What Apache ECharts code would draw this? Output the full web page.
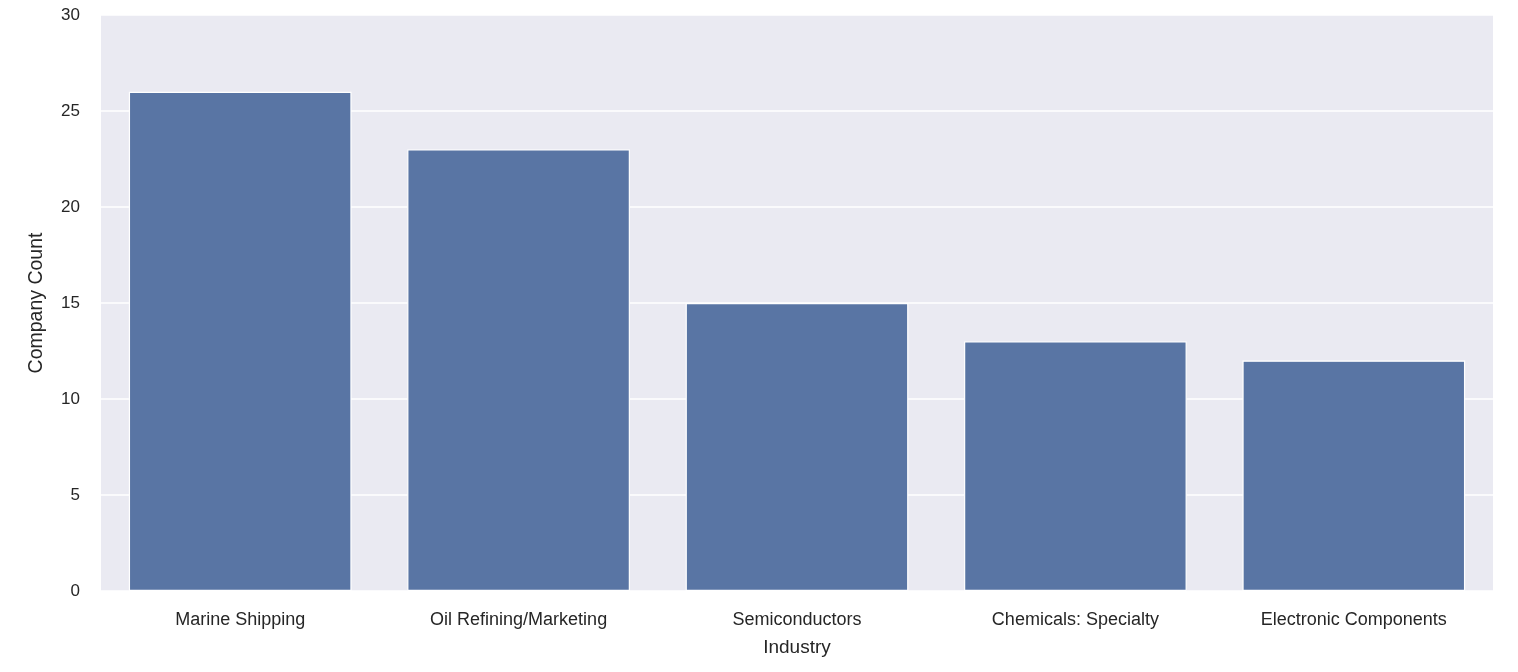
<!DOCTYPE html>
<html>
<head>
<meta charset="utf-8">
<script src="https://cdn.jsdelivr.net/npm/echarts@6/dist/echarts.min.js"></script>
<style>
html,body{margin:0;padding:0;background:#fff;}
#chart{width:1518px;height:672px;}
</style>
</head>
<body>
<div id="chart"></div>
<script>
// 行业分类
var industries = ['Marine Shipping', 'Oil Refining/Marketing', 'Semiconductors', 'Chemicals: Specialty', 'Electronic Components'];
// 公司数量
var companyCounts = [26, 23, 15, 13, 12];

var myChart = echarts.init(document.getElementById('chart'));
var fontFam = '"Liberation Sans", Arial, sans-serif';

myChart.setOption({
	animation: false,
	grid: {
		left: 101,
		right: 25,
		top: 15,
		bottom: 81,
		show: true,
		backgroundColor: '#eaeaf2',
		borderWidth: 0
	},
	xAxis: {
		type: 'category',
		data: industries,
		name: 'Industry',
		nameLocation: 'middle',
		nameGap: 47,
		nameTextStyle: { color: '#262626', fontSize: 19, fontFamily: fontFam },
		axisLine: { show: false },
		axisTick: { show: false },
		axisLabel: { color: '#262626', fontSize: 18, fontFamily: fontFam, margin: 20 },
		splitLine: { show: false }
	},
	yAxis: {
		type: 'value',
		min: 0,
		max: 30,
		interval: 5,
		name: 'Company Count',
		nameLocation: 'middle',
		nameGap: 54,
		nameTextStyle: { color: '#262626', fontSize: 19.5, fontFamily: fontFam },
		axisLine: { show: false },
		axisTick: { show: false },
		axisLabel: { color: '#262626', fontSize: 17, fontFamily: fontFam, margin: 21 },
		splitLine: { show: true, lineStyle: { color: '#ffffff', width: 1.5 } }
	},
	series: [
		{
			type: 'bar',
			data: companyCounts,
			barCategoryGap: '20%',
			itemStyle: {
				color: '#5975a4',
				borderColor: '#ffffff',
				borderWidth: 1.2
			}
		}
	]
});
</script>
</body>
</html>
